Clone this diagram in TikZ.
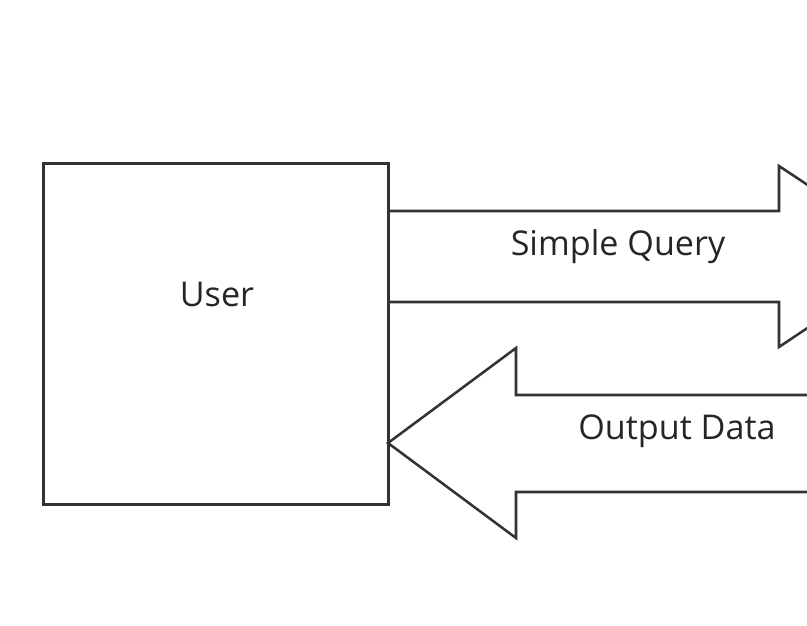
\documentclass[tikz,border=0pt]{standalone}
\usepackage{fontspec}
\setmainfont{Open Sans}
\begin{document}
\begin{tikzpicture}[x=0.75pt,y=-0.75pt,
  outline/.style={draw=black!80,line width=1.9pt,line join=miter},
  label/.style={font=\fontsize{25.6}{30}\selectfont,text=black!85}]
\useasboundingbox (0,0) rectangle (807,625);
\clip (0,0) rectangle (807,625);
\node[outline,minimum width=345*0.75pt,minimum height=341*0.75pt,anchor=north west,inner sep=0pt] (user) at (42,162) {};
\node[label] (userlbl) at (217,294) {User};
% Simple Query arrow (tip beyond the right edge)
\draw[outline] (387,211) -- (779,211) -- (779,166) -- (915,256) -- (779,347) -- (779,302) -- (387,302);
\node[label] (sq) at (618,247) {Simple Query};
% Output Data arrow
\draw[outline] (830,395) -- (516,395) -- (516,348) -- (388,443) -- (516,538) -- (516,492) -- (830,492);
\node[label] (od) at (677,431) {Output Data};
\end{tikzpicture}
\end{document}
